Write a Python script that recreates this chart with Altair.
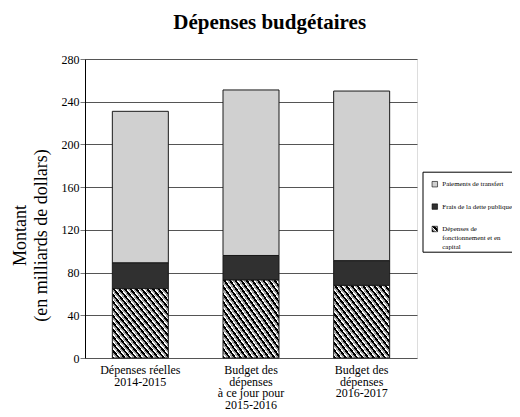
import altair as alt
import pandas as pd

# ---- data ----
categories = [
    "Dépenses réelles\n2014-2015",
    "Budget des\ndépenses\nà ce jour pour\n2015-2016",
    "Budget des\ndépenses\n2016-2017",
]
series = [
    "Paiements de transfert",
    "Frais de la dette publique",
    "Dépenses de\nfonctionnement et en\ncapital",
]
paiements_transfert = [142, 155, 159]
frais_dette = [24, 23, 23]
fonctionnement_capital = [65, 73, 68]
y_ticks = [0, 40, 80, 120, 160, 200, 240, 280]

# stacking order: bottom first
stack_order = {series[2]: 0, series[1]: 1, series[0]: 2}

rows = []
for i, c in enumerate(categories):
    for s, vals in zip(series, [paiements_transfert, frais_dette, fonctionnement_capital]):
        rows.append({"categorie": c, "serie": s, "montant": vals[i], "ordre": stack_order[s]})
df = pd.DataFrame(rows)

# ---- hatch fill as a striped linear gradient (style only) ----
periods = 20
stops = []
for k in range(periods):
    a = k / periods
    b = (k + 0.40) / periods
    c = (k + 0.65) / periods
    d = (k + 1) / periods
    stops += [(a, "#000000"), (b, "#000000"), (b, "#ffffff"), (c, "#ffffff"), (c, "#a0a0a0"), (d, "#a0a0a0")]
stops_expr = ", ".join("{offset: %.4f, color: '%s'}" % (o, col) for o, col in stops)
hatch_expr = "{gradient: 'linear', x1: 0, y1: 1, x2: 1, y2: 0, stops: [" + stops_expr + "]}"

FONT = "Liberation Serif"

bars = alt.Chart(df).mark_bar(size=56, stroke="#1a1a1a", strokeWidth=1).encode(
    x=alt.X(
        "categorie:N",
        sort=categories,
        scale=alt.Scale(paddingInner=0, paddingOuter=0),
        axis=alt.Axis(
            title=None,
            labelAngle=0,
            ticks=False,
            domain=False,
            labelFont=FONT,
            labelFontSize=12,
            labelColor="#000000",
            labelLineHeight=11.5,
            labelPadding=6.5,
            labelExpr="split(datum.label, '\\n')",
        ),
    ),
    y=alt.Y(
        "montant:Q",
        stack="zero",
        scale=alt.Scale(domain=[0, 280], nice=False),
        axis=alt.Axis(
            values=y_ticks,
            title=["Montant", "(en milliards de dollars)"],
            titleFont=FONT,
            titleFontSize=18,
            titleFontWeight="normal",
            titleColor="#000000",
            titleLineHeight=21,
            titleAngle=-90,
            titleAlign="center",
            titleBaseline="alphabetic",
            titleX=-60,
            titleY=176,
            labelFont=FONT,
            labelFontSize=12,
            labelColor="#000000",
            labelPadding=1,
            tickSize=5,
            tickColor="#777777",
            domainColor="#000000",
            gridColor="#555555",
            gridWidth=1,
        ),
    ),
    color=alt.Color(
        "serie:N",
        sort=series,
        scale=alt.Scale(domain=series, range=["#d0d0d0", "#303030", alt.ExprRef(hatch_expr)]),
        legend=alt.Legend(
            title=" ",
            titleFontSize=5,
            titlePadding=2,
            orient="none",
            legendX=337.5,
            legendY=112.7,
            padding=2,
            strokeColor="#000000",
            fillColor="#ffffff",
            symbolType="square",
            symbolSize=30,
            symbolOffset=6.8,
            symbolStrokeColor="#000000",
            symbolStrokeWidth=0.6,
            labelFont=FONT,
            labelFontSize=6.9,
            labelColor="#000000",
            labelBaseline="middle",
            labelOffset=4,
            rowPadding=13.4,
            labelExpr="split(datum.label, '\\n')",
        ),
    ),
    order=alt.Order("ordre:Q", sort="ascending"),
)

chart = bars.properties(
    width=332,
    height=299,
    autosize="none",
    padding={"left": 77, "top": 51, "right": 95, "bottom": 51},
    title=alt.TitleParams(
        "Dépenses budgétaires",
        font=FONT,
        fontSize=21,
        fontWeight="bold",
        color="#000000",
        anchor="middle",
        frame="group",
        dx=18.7,
        dy=-2,
        baseline="alphabetic",
        offset=1,
    ),
).configure_view(stroke="#000000", strokeWidth=1).configure(background="#ffffff")

chart.save("out.html", embed_options={"renderer": "svg", "actions": False})
